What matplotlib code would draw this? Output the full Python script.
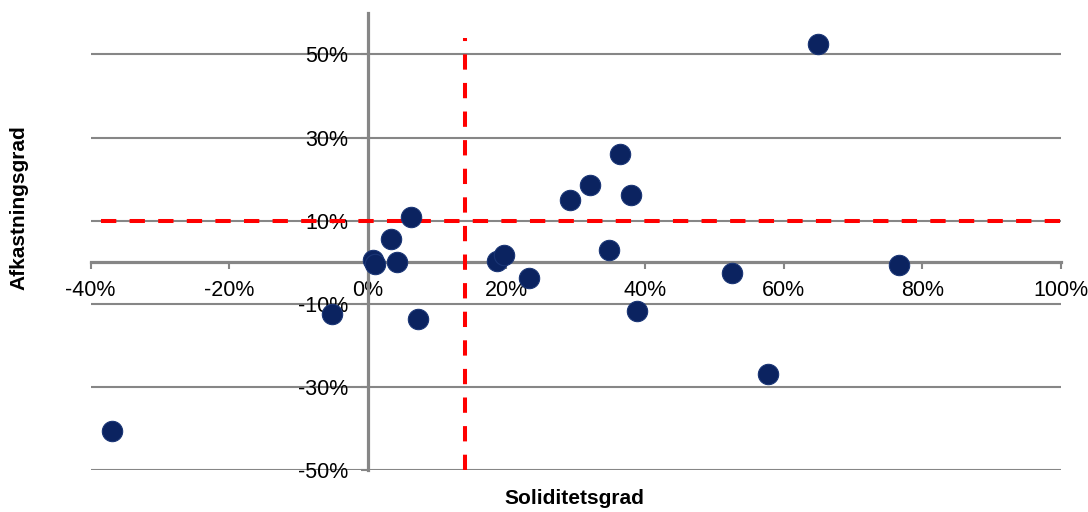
import matplotlib
matplotlib.use("Agg")
import matplotlib.pyplot as plt

plt.rcParams['font.family'] = ['Liberation Sans', 'DejaVu Sans']
plt.rcParams['axes.unicode_minus'] = False

# soliditetsgrad (x) and afkastningsgrad (y), in percent
soliditet = [6.3, 3.3, 0.8, 1.0, 4.2, 18.6, 19.7, 23.3, 65.0, 36.4, 32.0,
             29.2, 37.9, 34.8, 52.5, 76.7, -5.2, 7.2, -36.9, 38.8, 57.7]
afkast = [10.8, 5.7, 0.5, -0.3, 0.0, 0.2, 1.75, -3.8, 52.4, 26.0, 18.5,
          15.0, 16.2, 2.9, -2.6, -0.6, -12.5, -13.6, -40.6, -11.8, -26.9]

# reference lines
ref_x = 14
ref_y = 10

x_ticks = [-40, -20, 0, 20, 40, 60, 80, 100]
y_ticks = [-50, -30, -10, 10, 30, 50]

grey = '#868686'
navy = '#0b2360'

fig = plt.figure(figsize=(10.88, 5.12), dpi=100)
ax = fig.add_axes([0.0832, 0.0814, 0.8920, 0.8938])
ax.set_xlim(-40, 100)
ax.set_ylim(-50, 60)

# axes cross at the origin
ax.spines['left'].set_position(('data', 0))
ax.spines['bottom'].set_position(('data', 0))
ax.spines['top'].set_visible(False)
ax.spines['right'].set_visible(False)
for s in ('left', 'bottom'):
    ax.spines[s].set_color(grey)
    ax.spines[s].set_linewidth(2.3)
    ax.spines[s].set_zorder(2)

ax.set_xticks(x_ticks)
ax.set_xticklabels(['{0}%'.format(v) for v in x_ticks])
ax.set_yticks(y_ticks)
ax.set_yticklabels(['{0}%'.format(v) for v in y_ticks])
ax.tick_params(axis='both', direction='out', length=5, width=1.5, color=grey,
               labelsize=15.5, labelcolor='black')
ax.tick_params(axis='x', pad=8)
ax.tick_params(axis='y', pad=9)

for v in y_ticks:
    ax.axhline(v, color=grey, linewidth=1.5, zorder=1)

dash = (0, (3.8, 3.3))
ax.plot([-38.5, 101], [ref_y, ref_y], color='#ff0000', linewidth=2.9,
        linestyle=dash, zorder=3, clip_on=False)
ax.plot([ref_x, ref_x], [-50, 54], color='#ff0000', linewidth=2.9,
        linestyle=dash, zorder=3, clip_on=False)

ax.scatter(soliditet, afkast, s=215, color=navy, edgecolors='#1a3575',
           linewidths=0.8, zorder=4, clip_on=False)

fig.text(0.0175, 0.594, 'Afkastningsgrad', rotation=90, ha='center',
         va='center', fontsize=15, fontweight='bold')
fig.text(0.528, 0.027, 'Soliditetsgrad', ha='center', va='center',
         fontsize=15, fontweight='bold')

fig.savefig('out.png', dpi=100)
